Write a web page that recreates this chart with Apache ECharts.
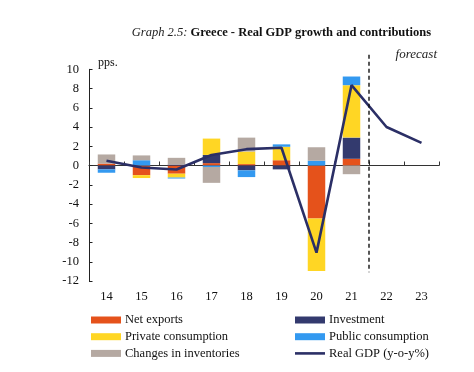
<!DOCTYPE html>
<html>
<head>
<meta charset="utf-8">
<script src="https://cdn.jsdelivr.net/npm/echarts@6/dist/echarts.min.js"></script>
<style>html,body{margin:0;padding:0;background:#fff}#c{width:474px;height:372px}</style>
</head>
<body>
<div id="c"></div>
<script>
var years = ['14','15','16','17','18','19','20','21','22','23'];
var netExports = [0.2, -1.0, -0.85, 0.25, 0.15, 0.55, -5.5, 0.7, null, null];
var investment = [-0.4, 0, 0.1, 0.85, -0.5, -0.4, 0, 2.2, null, null];
var privateCons = [0, -0.3, -0.4, 1.7, 1.3, 1.4, -5.45, 5.45, null, null];
var publicCons = [-0.35, 0.55, -0.1, -0.15, -0.7, 0.25, 0.5, 0.9, null, null];
var inventories = [0.95, 0.5, 0.7, -1.65, 1.45, 0, 1.4, -0.9, null, null];
var realGDP = [0.5, -0.2, -0.42, 1.1, 1.7, 1.85, -9.05, 8.35, 4.0, 2.35];
var yTicks = {min: -12, max: 10, interval: 2};

var FONT = 'Liberation Serif';
var colors = {nx:'#E5521B', inv:'#333A6E', pc:'#FFD624', pub:'#3399F0', chg:'#B5A9A2', gdp:'#2B2F66'};

function bar(name, data, color) {
  return {name: name, type: 'bar', stack: 'c', data: data, barWidth: 17.5,
    itemStyle: {color: color}, xAxisIndex: 0, yAxisIndex: 0};
}
var legText = {fontFamily: FONT, fontSize: 12.5, color: '#111', lineHeight: 14, padding: [0,0,0,-1]};

var chart = echarts.init(document.getElementById('c'), null, {renderer: 'canvas'});
var option = {
  animation: false,
  textStyle: {fontFamily: FONT},
  title: [
    {text: '{i|Graph 2.5: }{b|Greece - Real GDP growth and contributions}', right: 43, top: 26, padding: 0,
      textStyle: {fontWeight: 'normal', rich: {
        i: {fontFamily: FONT, fontStyle: 'italic', fontWeight: 'normal', fontSize: 12.5, color: '#222'},
        b: {fontFamily: FONT, fontWeight: 'bold', fontSize: 12.5, color: '#111'}
      }}},
    {text: 'forecast', right: 37, top: 48, padding: 0, textStyle: {fontFamily: FONT, fontStyle: 'italic', fontWeight: 'normal', fontSize: 13, color: '#222'}},
    {text: 'pps.', left: 98, top: 57, padding: 0, textStyle: {fontFamily: FONT, fontWeight: 'normal', fontSize: 12, color: '#111'}}
  ],
  grid: {left: 89, right: 35, top: 69.3, bottom: 91, containLabel: false},
  legend: [
    {data: [{name: 'Net exports', icon: 'rect'}, {name: 'Private consumption', icon: 'rect'}, {name: 'Changes in inventories', icon: 'rect'}],
      orient: 'vertical', padding: 0,
      left: 91, top: 313, itemWidth: 30, itemHeight: 7, itemGap: 2.7, selectedMode: false, textStyle: legText},
    {data: [{name: 'Investment', icon: 'rect'}, {name: 'Public consumption', icon: 'rect'},
            {name: 'Real GDP (y-o-y%)', icon: 'path://M0,0L30,0L30,2.6L0,2.6Z'}],
      orient: 'vertical', padding: 0, symbolKeepAspect: true,
      left: 295, top: 313, itemWidth: 30, itemHeight: 7, itemGap: 2.7, selectedMode: false, textStyle: legText}
  ],
  xAxis: [
    {type: 'category', data: years, boundaryGap: true,
      axisLine: {onZero: true, lineStyle: {color: '#333', width: 1.2}},
      axisTick: {show: true, inside: true, length: 4, lineStyle: {color: '#333'}},
      axisLabel: {show: false}},
    {type: 'category', data: years, position: 'bottom', boundaryGap: true,
      axisLine: {show: false, onZero: false}, axisTick: {show: false},
      axisLabel: {margin: 9, fontFamily: FONT, fontSize: 12.5, color: '#111'}}
  ],
  yAxis: [{type: 'value', min: yTicks.min, max: yTicks.max, interval: yTicks.interval,
    axisLine: {show: true, lineStyle: {color: '#222', width: 1}},
    axisTick: {show: true, inside: true, length: 3.5, lineStyle: {color: '#222'}},
    splitLine: {show: false},
    axisLabel: {margin: 10, fontFamily: FONT, fontSize: 12.5, color: '#111'}}],
  series: [
    bar('Net exports', netExports, colors.nx),
    bar('Investment', investment, colors.inv),
    bar('Private consumption', privateCons, colors.pc),
    bar('Public consumption', publicCons, colors.pub),
    bar('Changes in inventories', inventories, colors.chg),
    {name: 'Real GDP (y-o-y%)', type: 'line', data: realGDP, symbol: 'none', z: 5,
      lineStyle: {color: colors.gdp, width: 2.6}, itemStyle: {color: colors.gdp}}
  ]
};
chart.setOption(option);

var xa = chart.convertToPixel({xAxisIndex: 0}, '21');
var xb = chart.convertToPixel({xAxisIndex: 0}, '22');
var xm = (xa + xb) / 2;
var yTop = chart.convertToPixel({yAxisIndex: 0}, 11.5);
var yBot = chart.convertToPixel({yAxisIndex: 0}, -11.1);
chart.setOption({graphic: [{type: 'line', z: 10,
  shape: {x1: xm, y1: yTop, x2: xm, y2: yBot},
  style: {stroke: '#111', lineWidth: 1.4, lineDash: [4, 3]}}]});
</script>
</body>
</html>
